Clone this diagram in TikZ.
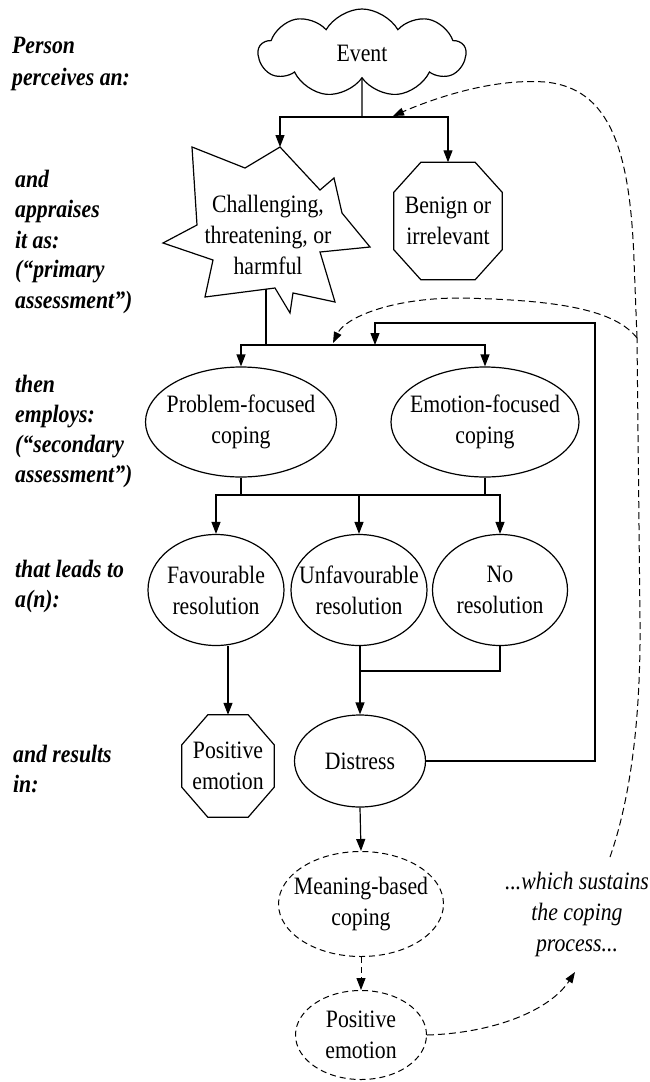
\documentclass[tikz,border=0pt]{standalone}
\usepackage{fontspec}
\setmainfont{Liberation Serif}[FakeStretch=0.87]
\usetikzlibrary{shapes.geometric,shapes.symbols,arrows.meta}
\newcommand\dgfont{\fontsize{25}{31}\selectfont}
\newcommand\labfont{\fontsize{25}{30}\selectfont\bfseries\itshape}
\begin{document}
\begin{tikzpicture}[x=1pt,y=-1pt,
  box/.style={draw, line width=1.2pt, inner sep=0pt, align=center, font=\dgfont},
  txt/.style={inner sep=0pt, align=center, font=\dgfont},
  ell/.style={box, ellipse, inner xsep=-40pt, inner ysep=-40pt},
  dsh/.style={dash pattern=on 6pt off 4pt, line width=1pt},
  arr/.style={-{Triangle[length=12pt,width=9pt]}, line width=1.2pt},
  darr/.style={-{Triangle[length=11pt,width=8pt]}, dash pattern=on 7pt off 4pt, line width=1pt},
  lab/.style={anchor=base west, inner sep=0pt, font=\labfont},
  oct/.style={line width=1.2pt}]
\useasboundingbox (0,0) rectangle (649,1082);

% left labels
\node[lab] (l1) at (12,53) {Person};
\node[lab] (l2) at (12,85) {perceives an:};
\node[lab] (l3) at (15,187) {and};
\node[lab] (l4) at (15,217) {appraises};
\node[lab] (l5) at (15,248) {it as:};
\node[lab] (l6) at (15,277) {(“primary};
\node[lab] (l7) at (15,308) {assessment”)};
\node[lab] (l8) at (15,392) {then};
\node[lab] (l9) at (15,422) {employs:};
\node[lab] (l10) at (15,452) {(“secondary};
\node[lab] (l11) at (15,482) {assessment”)};
\node[lab] (l12) at (15,577) {that leads to};
\node[lab] (l13) at (15,607) {a(n):};
\node[lab] (l14) at (13,762) {and results};
\node[lab] (l15) at (13,792) {in:};

% event cloud
\node[box, cloud, cloud puffs=9, cloud puff arc=120, cloud ignores aspect,
      inner xsep=0pt, inner ysep=0pt,
      minimum width=207pt, minimum height=88pt] (event) at (362,53) {Event};

% star
\draw[oct] (280,147) -- (320,190) -- (334,178) -- (342,213) -- (370,247)
  -- (320,252) -- (335,302) -- (293,293) -- (290,313) -- (275,288)
  -- (205,297) -- (213,260) -- (163,243) -- (197,225) -- (192,147)
  -- (245,168) -- cycle;
\node[txt] (star) at (268,235) {Challenging,\\threatening, or\\harmful};
\coordinate (startop) at (280,147);
\coordinate (starbot) at (266,289.4);

% benign octagon
\node[txt, minimum width=108pt, minimum height=117pt] (benign) at (448,221) {Benign or\\irrelevant};
\draw[oct] ([xshift=27pt]benign.north west) -- ([xshift=-27pt]benign.north east)
  -- ([yshift=-30pt]benign.north east) -- ([yshift=30pt]benign.south east)
  -- ([xshift=-27pt]benign.south east) -- ([xshift=27pt]benign.south west)
  -- ([yshift=30pt]benign.south west) -- ([yshift=-30pt]benign.north west) -- cycle;

% coping
\node[ell, minimum width=191pt, minimum height=110pt] (prob) at (241,422) {Problem-focused\\coping};
\node[ell, minimum width=188pt, minimum height=110pt] (emo) at (485,422) {Emotion-focused\\coping};

% resolutions
\node[ell, minimum width=136pt, minimum height=111pt] (fav) at (216,590) {Favourable\\resolution};
\node[ell, minimum width=136pt, minimum height=111pt] (unfav) at (359,590) {Unfavourable\\resolution};
\node[ell, minimum width=135pt, minimum height=111pt] (nores) at (500,590) {No\\resolution};

% positive emotion octagon
\node[txt, minimum width=92pt, minimum height=102pt] (posemo) at (228,766) {Positive\\emotion};
\draw[oct] ([xshift=26pt]posemo.north west) -- ([xshift=-26pt]posemo.north east)
  -- ([yshift=-30pt]posemo.north east) -- ([yshift=30pt]posemo.south east)
  -- ([xshift=-26pt]posemo.south east) -- ([xshift=26pt]posemo.south west)
  -- ([yshift=30pt]posemo.south west) -- ([yshift=-30pt]posemo.north west) -- cycle;

\node[ell, minimum width=131pt, minimum height=92pt] (distress) at (360,761) {Distress};
\node[ell, dsh, minimum width=165pt, minimum height=105pt] (meaning) at (361,904) {Meaning-based\\coping};
\node[ell, dsh, minimum width=131pt, minimum height=89pt] (pe2) at (361,1035) {Positive\\emotion};

\node[txt, font=\dgfont\itshape] (sustain) at (577,914) {...which sustains\\the coping\\process...};

% connectors
\coordinate (j1) at (362,117);
\draw[line width=1.2pt] (event.south) -- (j1);
\draw[arr] (j1) -| (startop);
\draw[arr] (j1) -| (benign.north);

\coordinate (j2) at (266,345);
\draw[line width=1.2pt] (starbot) -- (j2);
\draw[arr] (j2) -| (prob.north);
\draw[arr] (j2) -| (emo.north);

\coordinate (j3) at (359,495);
\draw[line width=1.2pt] (prob.south) -- (prob.south |- j3);
\draw[line width=1.2pt] (emo.south) -- (emo.south |- j3);
\draw[arr] (j3) -| (fav.north);
\draw[arr] (j3) -- (unfav.north);
\draw[arr] (j3) -| (nores.north);

\draw[arr] (fav.south -| posemo.north) -- (posemo.north);
\coordinate (j4) at (360,671);
\draw[line width=1.2pt] (nores.south) |- (j4);
\draw[arr] (unfav.south -| distress.north) -- (distress.north);

\coordinate (loopR) at (595,323);
\coordinate (loopL) at (375,323);
\coordinate (loopE) at (375,345);
\draw[arr] (distress.east) -| (loopR) -- (loopL) -- (loopE);

\draw[arr] (distress.south) -- (meaning.north);
\draw[arr, dash pattern=on 6pt off 4pt, line width=1pt] (meaning.south) -- (pe2.north);

\coordinate (stip) at (575,972);
\draw[darr] (pe2.east) .. controls (495,1033) and (550,1010) .. (stip);

% feedback dashed curves
\coordinate (dA) at (610,857);
\coordinate (dB) at (637,338);
\coordinate (tip1) at (393,116);
\coordinate (tip2) at (333,343);
\draw[dash pattern=on 7pt off 4pt, line width=1pt] (dA) .. controls (630,800) and (641,720) .. (640,620) -- (dB);
\draw[darr] (dB) -- (634,260) .. controls (630,150) and (610,88) .. (545,82) .. controls (490,78) and (430,100) .. (tip1);
\draw[darr] (dB) .. controls (615,310) and (560,300) .. (460,298) .. controls (390,298) and (345,318) .. (tip2);
\end{tikzpicture}
\end{document}
